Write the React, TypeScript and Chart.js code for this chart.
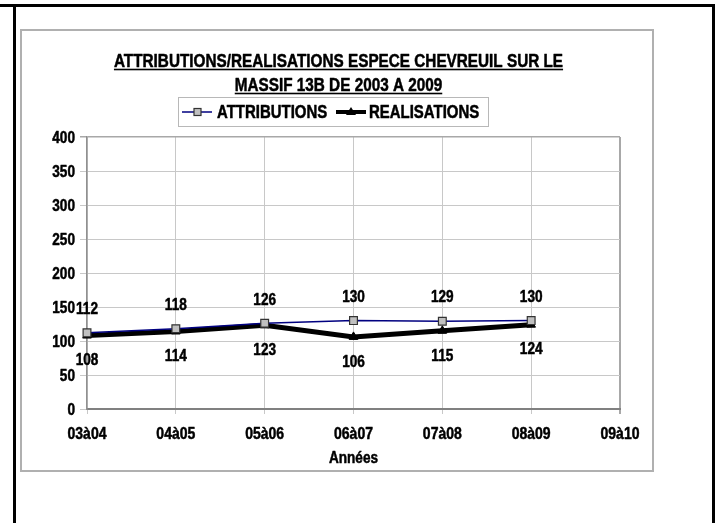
import React, { useEffect, useRef } from 'react';
import { Chart, registerables } from 'chart.js';

Chart.register(...registerables);

const categories = ['03à04', '04à05', '05à06', '06à07', '07à08', '08à09', '09à10'];
const attributions = [112, 118, 126, 130, 129, 130, null];
const realisations = [108, 114, 123, 106, 115, 124, null];
const seriesNames = ['ATTRIBUTIONS', 'REALISATIONS'];
const titleLines = ['ATTRIBUTIONS/REALISATIONS ESPECE CHEVREUIL SUR LE', 'MASSIF 13B DE 2003 A 2009'];
const xAxisTitle = 'Années';
const yMin = 0;
const yMax = 400;
const yStep = 50;

const FONT = '"Liberation Sans", Arial, sans-serif';
const SQUEEZE = 0.85; // narrow (Arial Narrow-like) look
const NAVY = '#000080';
const W = 717;
const H = 523;

function narrowText(
  ctx: CanvasRenderingContext2D,
  t: string,
  x: number,
  y: number,
  size: number,
  align: CanvasTextAlign
) {
  ctx.save();
  ctx.font = `bold ${size}px ${FONT}`;
  ctx.textAlign = align;
  ctx.textBaseline = 'alphabetic';
  ctx.fillStyle = '#000';
  ctx.strokeStyle = '#000';
  ctx.lineWidth = 0.5;
  ctx.lineJoin = 'round';
  ctx.translate(x, y);
  ctx.scale(SQUEEZE, 1);
  ctx.fillText(t, 0, 0);
  ctx.strokeText(t, 0, 0);
  const w = ctx.measureText(t).width * SQUEEZE;
  ctx.restore();
  return w;
}

const decorPlugin = {
  id: 'decor',
  beforeDraw(chart: any) {
    const ctx = chart.ctx as CanvasRenderingContext2D;
    ctx.save();
    ctx.fillStyle = '#ffffff';
    ctx.fillRect(0, 0, W, H);
    ctx.fillStyle = '#000000';
    ctx.fillRect(0, 4, 715, 3);
    ctx.fillRect(13, 4, 3, H);
    ctx.fillRect(712, 4, 3, H);
    ctx.strokeStyle = '#b0b0b0';
    ctx.lineWidth = 2;
    ctx.strokeRect(21, 30, 632, 441);
    ctx.restore();
  },
  afterDatasetsDraw(chart: any) {
    const ctx = chart.ctx as CanvasRenderingContext2D;
    const xs = chart.scales.x;
    const ys = chart.scales.y;
    attributions.forEach((v, i) => {
      if (v == null) return;
      narrowText(ctx, String(v), xs.getPixelForValue(i), ys.getPixelForValue(v) - 18.8, 16, 'center');
    });
    realisations.forEach((v, i) => {
      if (v == null) return;
      narrowText(ctx, String(v), xs.getPixelForValue(i), ys.getPixelForValue(v) + 29.7, 16, 'center');
    });
  },
  afterDraw(chart: any) {
    const ctx = chart.ctx as CanvasRenderingContext2D;
    const xs = chart.scales.x;
    const ys = chart.scales.y;
    ctx.save();
    // axis tick labels (from the chart's own scales)
    ys.ticks.forEach((tk: any, i: number) => {
      narrowText(ctx, String(tk.value), 75, ys.getPixelForTick(i) + 5.7, 16, 'right');
    });
    xs.ticks.forEach((tk: any, i: number) => {
      narrowText(ctx, String(xs.getLabelForValue(tk.value)), xs.getPixelForTick(i), 438.6, 16.5, 'center');
    });
    narrowText(ctx, xAxisTitle, (xs.left + xs.right) / 2, 462.6, 16, 'center');

    // title
    const cx = 338.5;
    const baselines = [66.7, 90.7];
    titleLines.forEach((t, i) => {
      ctx.save();
      ctx.font = `bold 18px ${FONT}`;
      const w = ctx.measureText(t).width * SQUEEZE;
      ctx.restore();
      narrowText(ctx, t, cx - w / 2, baselines[i], 18, 'left');
      ctx.fillStyle = '#000';
      ctx.fillRect(cx - w / 2, baselines[i] + 2, w, 1.6);
    });

    // legend
    ctx.strokeStyle = '#b8b8b8';
    ctx.lineWidth = 1;
    ctx.strokeRect(178.5, 97.5, 310, 29);
    const ly = 112;
    ctx.strokeStyle = NAVY;
    ctx.lineWidth = 1.5;
    ctx.beginPath();
    ctx.moveTo(182, ly);
    ctx.lineTo(212, ly);
    ctx.stroke();
    ctx.fillStyle = '#c0c0c0';
    ctx.fillRect(194, ly - 3.5, 7, 7);
    ctx.strokeStyle = '#333';
    ctx.lineWidth = 1.2;
    ctx.strokeRect(194, ly - 3.5, 7, 7);
    ctx.strokeStyle = '#000';
    ctx.lineWidth = 4;
    ctx.beginPath();
    ctx.moveTo(336, ly);
    ctx.lineTo(366, ly);
    ctx.stroke();
    ctx.fillStyle = '#000';
    ctx.beginPath();
    ctx.moveTo(351, ly - 5);
    ctx.lineTo(356, ly + 3);
    ctx.lineTo(346, ly + 3);
    ctx.closePath();
    ctx.fill();
    narrowText(ctx, seriesNames[0], 217, 118.3, 17.6, 'left');
    narrowText(ctx, seriesNames[1], 369, 118.3, 17.6, 'left');
    ctx.restore();
  },
};

export default function App() {
  const ref = useRef<HTMLCanvasElement | null>(null);
  useEffect(() => {
    if (!ref.current) return;
    Chart.defaults.font.family = FONT;
    const chart = new Chart(ref.current, {
      type: 'line',
      data: {
        labels: categories,
        datasets: [
          {
            label: seriesNames[0],
            data: attributions,
            borderColor: NAVY,
            borderWidth: 1.5,
            pointStyle: 'rect',
            pointRadius: 5.5,
            pointBackgroundColor: '#c0c0c0',
            pointBorderColor: '#333',
            pointBorderWidth: 1.2,
            tension: 0,
          },
          {
            label: seriesNames[1],
            data: realisations,
            borderColor: '#000',
            borderWidth: 5,
            pointStyle: 'triangle',
            pointRadius: 5,
            pointBackgroundColor: '#000',
            pointBorderColor: '#000',
            pointBorderWidth: 1,
            tension: 0,
          },
        ],
      },
      options: {
        responsive: false,
        animation: false,
        devicePixelRatio: 1,
        layout: { padding: { left: 20, right: 97, top: 137, bottom: 57 } },
        plugins: {
          legend: { display: false },
          title: { display: false },
          tooltip: { enabled: false },
        },
        scales: {
          x: {
            type: 'category',
            offset: false,
            grid: {
              color: (c: any) => (c.index === categories.length - 1 ? '#a8a8a8' : '#c8c8c8'),
              lineWidth: (c: any) => (c.index === categories.length - 1 ? 2 : 1),
              tickLength: 5,
            },
            border: { color: '#808080', width: 2 },
            ticks: { display: false, autoSkip: false, maxRotation: 0 },
            afterFit: (s: any) => {
              s.height = 57;
            },
          },
          y: {
            min: yMin,
            max: yMax,
            grid: {
              color: (c: any) => (c.index === 8 ? '#a8a8a8' : '#c8c8c8'),
              lineWidth: (c: any) => (c.index === 8 ? 1.5 : 1),
              tickLength: 7,
            },
            border: { color: '#909090', width: 1.5 },
            ticks: { display: false, stepSize: yStep },
            afterFit: (s: any) => {
              s.width = 67;
            },
          },
        },
      },
      plugins: [decorPlugin],
    });
    return () => chart.destroy();
  }, []);
  return (
    <div style={{ position: 'absolute', left: 0, top: 0, width: W, height: H }}>
      <canvas ref={ref} width={W} height={H} style={{ display: 'block' }} />
    </div>
  );
}
